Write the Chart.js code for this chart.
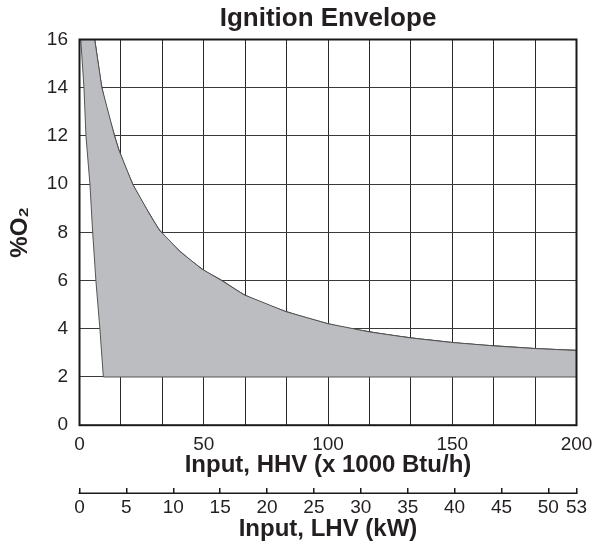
<!DOCTYPE html>
<html>
<head>
<meta charset="utf-8">
<script src="https://cdn.jsdelivr.net/npm/chart.js@4"></script>
<style>
    html, body { margin: 0; padding: 0; background: #fff; }
    #wrap { width: 598px; height: 544px; }
</style>
</head>
<body>
<div id="wrap"><canvas id="grafico"></canvas></div>
<script>
// Upper boundary of the ignition envelope
const upperHHV = [6.1, 9.0, 14.1, 15.9, 21.4, 28.4, 32.1, 40.5, 49.2, 57.2, 66.2, 83.1, 100, 116.7, 133.3, 150, 166.7, 183.3, 200];
const upperO2  = [16, 14, 12, 11.4, 10, 8.72, 8.1, 7.2, 6.48, 6.0, 5.41, 4.71, 4.21, 3.87, 3.62, 3.43, 3.29, 3.18, 3.10];

// Lower / left boundary, walked back from the right end
const lowerHHV = [200, 9.6, 8.2, 6.6, 5.3, 4.2, 2.6, 1.8, 0.5];
const lowerO2  = [2, 2, 4, 6, 8, 10, 12, 14, 16];

// Axis ticks
const hhvMax = 200;
const hhvLabels = [0, 50, 100, 150, 200];
const hhvGridCount = 12;
const kwTicks = [0, 5, 10, 15, 20, 25, 30, 35, 40, 45, 50, 53];
const kwMax = 53;

const FONT = "'Liberation Sans', Arial, sans-serif";
const TEXT = '#231f20';

// closed outline of the shaded area
const contorno = upperHHV.map((x, i) => ({ x: x, y: upperO2[i] }))
    .concat(lowerHHV.map((x, i) => ({ x: x, y: lowerO2[i] })));

// same upper curve, drawn smooth on top of the fill
const curva = upperHHV.map((x, i) => ({ x: x, y: upperO2[i] }));

// frame around the plot + line of the kW axis
const molduraPlugin = {
    id: 'moldura',
    afterDraw(chart) {
        const ctx = chart.ctx;
        const a = chart.chartArea;
        ctx.save();
        ctx.strokeStyle = '#1a1a1a';
        ctx.lineWidth = 2;
        ctx.strokeRect(a.left, a.top, a.right - a.left, a.bottom - a.top);

        const kw = chart.scales.x2;
        ctx.lineWidth = 1.5;
        ctx.beginPath();
        ctx.moveTo(kw.left - 1, kw.top + 5);
        ctx.lineTo(kw.right + 1, kw.top + 5);
        ctx.stroke();
        ctx.restore();
    }
};

// let the layout padding decide the right edge
function semSobra(scale) {
    scale.paddingRight = 0;
    scale.paddingLeft = 0;
}

const ctx = document.getElementById('grafico');

new Chart(ctx, {
    type: 'line',
    data: {
        datasets: [{
            label: 'Ignition envelope',
            data: contorno,
            fill: 'shape',
            backgroundColor: '#bcbdc1',
            borderColor: '#555',
            borderWidth: 1,
            pointRadius: 0,
            tension: 0
        }, {
            label: 'Upper limit',
            data: curva,
            fill: false,
            borderColor: '#2a2a2a',
            borderWidth: 1.2,
            pointRadius: 0,
            cubicInterpolationMode: 'monotone'
        }]
    },
    options: {
        responsive: true,
        maintainAspectRatio: false,
        animation: false,
        layout: {
            padding: { left: 0, right: 21.5, top: 0, bottom: 0 }
        },
        plugins: {
            legend: { display: false },
            tooltip: { enabled: false },
            title: {
                display: true,
                text: 'Ignition Envelope',
                fullSize: false,
                color: TEXT,
                font: { family: FONT, size: 26, weight: 'bold', lineHeight: 1.1 },
                padding: { top: 4.4, bottom: 6.5 }
            }
        },
        scales: {
            x: {
                type: 'linear',
                position: 'bottom',
                weight: 0,
                z: 1,
                min: 0,
                max: hhvMax,
                afterFit: semSobra,
                afterBuildTicks: function(scale) {
                    const t = [];
                    for (let i = 0; i <= hhvGridCount; i++) {
                        t.push({ value: hhvMax * i / hhvGridCount });
                    }
                    scale.ticks = t;
                },
                ticks: {
                    autoSkip: false,
                    maxRotation: 0,
                    padding: 10.5,
                    color: TEXT,
                    font: { family: FONT, size: 19, lineHeight: 1 },
                    callback: function(value) {
                        const hit = hhvLabels.find(v => Math.abs(v - value) < 1e-6);
                        return hit === undefined ? '' : String(hit);
                    }
                },
                grid: {
                    color: '#2a2a2a',
                    lineWidth: 1,
                    drawTicks: false
                },
                border: { display: false },
                title: {
                    display: true,
                    text: 'Input, HHV (x 1000 Btu/h)',
                    color: TEXT,
                    font: { family: FONT, size: 24, weight: 'bold', lineHeight: 1 },
                    padding: { top: -11.4, bottom: 10.5 }
                }
            },
            x2: {
                type: 'linear',
                position: 'bottom',
                weight: 1,
                min: 0,
                max: kwMax,
                afterFit: semSobra,
                afterBuildTicks: function(scale) {
                    scale.ticks = kwTicks.map(v => ({ value: v }));
                },
                ticks: {
                    autoSkip: false,
                    maxRotation: 0,
                    padding: 5,
                    color: TEXT,
                    font: { family: FONT, size: 19, lineHeight: 1 }
                },
                grid: {
                    display: true,
                    drawOnChartArea: false,
                    drawTicks: true,
                    tickLength: 5,
                    color: '#1a1a1a',
                    lineWidth: 1.5
                },
                border: { display: false },
                title: {
                    display: true,
                    text: 'Input, LHV (kW)',
                    color: TEXT,
                    font: { family: FONT, size: 24, weight: 'bold', lineHeight: 1 },
                    padding: { top: -5.3, bottom: 3 }
                }
            },
            y: {
                type: 'linear',
                z: 1,
                min: 0,
                max: 16,
                afterFit: function(scale) {
                    scale.width = 79.5;
                },
                ticks: {
                    stepSize: 2,
                    padding: 11.5,
                    color: TEXT,
                    font: { family: FONT, size: 19 }
                },
                grid: {
                    color: '#3a3a3a',
                    lineWidth: 1,
                    drawTicks: false
                },
                border: { display: false },
                title: {
                    display: true,
                    text: '%O₂',
                    color: TEXT,
                    font: { family: FONT, size: 24, weight: 'bold', lineHeight: 1.2 },
                    padding: { top: 5.6, bottom: 12.5 }
                }
            }
        }
    },
    plugins: [molduraPlugin]
});
</script>
</body>
</html>
